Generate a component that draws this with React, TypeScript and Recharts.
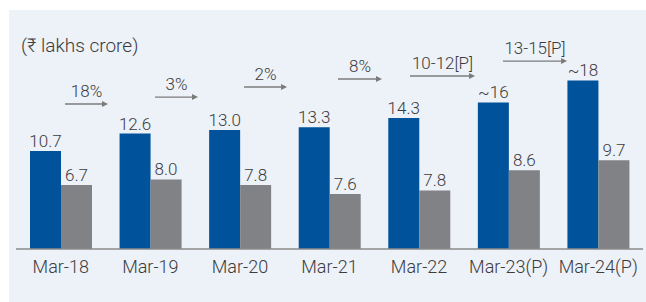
import React from 'react';
import { BarChart, Bar, XAxis, YAxis, LabelList, ReferenceLine } from 'recharts';

const categories = ['Mar-18', 'Mar-19', 'Mar-20', 'Mar-21', 'Mar-22', 'Mar-23(P)', 'Mar-24(P)'];
// bar heights as drawn in the picture (₹ lakhs crore)
const blueValues = [10.7, 12.6, 13.0, 13.3, 14.3, 16.0, 18.4];
const grayValues = [7.0, 7.6, 7.0, 6.0, 6.4, 8.6, 9.7];
// printed labels
const blueLabels = ['10.7', '12.6', '13.0', '13.3', '14.3', '~16', '~18'];
const grayLabels = ['6.7', '8.0', '7.8', '7.6', '7.8', '8.6', '9.7'];
const growthLabels = ['18%', '3%', '2%', '8%', '10-12[P]', '13-15[P]'];

// arrow annotation layout: fraction of the way between two category centres, and value-level
const arrowLayout = [
  { f1: 0.047, f2: 0.527, y: 15.83 },
  { f1: 0.052, f2: 0.532, y: 16.59 },
  { f1: 0.046, f2: 0.526, y: 17.69 },
  { f1: 0.095, f2: 0.586, y: 18.56 },
  { f1: -0.101, f2: 0.625, y: 18.89 },
  { f1: -0.063, f2: 0.652, y: 20.52 },
];

const data = categories.map((c, i) => ({
  cat: c,
  blue: blueValues[i],
  gray: grayValues[i],
  blueLabel: blueLabels[i],
  grayLabel: grayLabels[i],
}));

const BLUE = '#00529B';
const GRAY = '#808285';
const TEXT = '#3c3c3c';
const ARROW = '#7b7b7b';

const makeArrow = (label: string, f1: number, f2: number) => (p: any) => {
  const { x1: cx1, y1, x2: cx2 } = p;
  const xs = cx1 + f1 * (cx2 - cx1);
  const xe = cx1 + f2 * (cx2 - cx1);
  const head = 6;
  return (
    <g>
      <line x1={xs} y1={y1} x2={xe - head} y2={y1} stroke={ARROW} strokeWidth={1.3} />
      <polygon points={`${xe},${y1} ${xe - head},${y1 - 3} ${xe - head},${y1 + 3}`} fill={ARROW} />
      <text x={(xs + xe) / 2} y={y1 - 7} textAnchor="middle" fontSize={17} fontWeight={300} fill={TEXT}>
        {label}
      </text>
    </g>
  );
};

export default function App() {
  return (
    <div
      style={{
        position: 'absolute',
        left: 9,
        top: 10,
        width: 637,
        height: 292,
        background: '#EDF1F8',
        fontFamily: 'Roboto, sans-serif',
        fontWeight: 300,
      }}
    >
      <div
        style={{
          position: 'absolute',
          left: 12,
          top: 25,
          fontSize: 19,
          lineHeight: '22px',
          color: TEXT,
          whiteSpace: 'nowrap',
        }}
      >
        (₹ lakhs crore)
      </div>
      <BarChart
        width={637}
        height={292}
        data={data}
        margin={{ top: 19.2, right: 3, bottom: 23, left: 7 }}
        barGap={0}
        barSize={31}
      >
        <XAxis
          dataKey="cat"
          tickLine={false}
          axisLine={{ stroke: '#8a8a8a', strokeWidth: 1.5 }}
          tick={{ fill: TEXT, fontSize: 18, fontWeight: 300 }}
          tickMargin={5}
          height={30}
          interval={0}
        />
        <YAxis domain={[0, 24]} hide allowDataOverflow />
        <Bar dataKey="blue" fill={BLUE} isAnimationActive={false}>
          <LabelList dataKey="blueLabel" position="top" offset={4} fill={TEXT} fontSize={17} fontWeight={300} />
        </Bar>
        <Bar dataKey="gray" fill={GRAY} isAnimationActive={false}>
          <LabelList dataKey="grayLabel" position="top" offset={4} fill={TEXT} fontSize={17} fontWeight={300} />
        </Bar>
        {arrowLayout.map((a, i) => (
          <ReferenceLine
            key={i}
            ifOverflow="visible"
            segment={[
              { x: categories[i], y: a.y },
              { x: categories[i + 1], y: a.y },
            ]}
            shape={makeArrow(growthLabels[i], a.f1, a.f2)}
          />
        ))}
      </BarChart>
    </div>
  );
}
